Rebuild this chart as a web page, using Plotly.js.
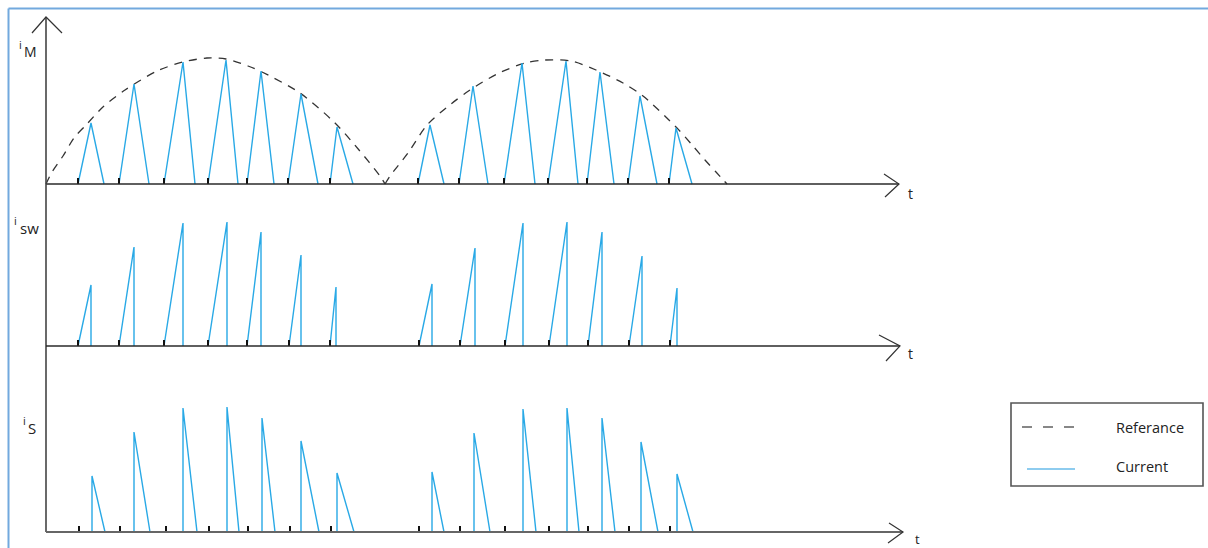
<!DOCTYPE html>
<html>
<head>
<meta charset="utf-8">
<script src="https://cdn.plot.ly/plotly-3.0.1.min.js"></script>
<style>html,body{margin:0;padding:0;background:#fff;}#chart{width:1208px;height:548px;}</style>
</head>
<body>
<div id="chart"></div>
<script>
// ---- Reference (dashed) envelope of i_M ----
const refArc1T = [0,6,17,28,40,58,79,111,137,161,180,202,216,254,289,313,334,339];
const refArc1A = [0,12,28,46,59,78,94,113,122,126,125,118,112,91,61,34,8,0];
const refArc2T = [339,344,362,381,405,424,451,479,499,525,550,577,597,631,647,659,670,681];
const refArc2A = [0,8,31,59,80,94,110,121,124,123,114,101,88,56,38,24,12,0];

// ---- i_M current triangles ----
const imStart = [32,73,118,162,201,242,284,372,413,458,502,541,582,623];
const imPeakT = [45,88,137,180,215,255,291,384,427,476,520,554,594,630];
const imEnd   = [58,103,149,192,228,272,307,398,442,489,532,568,611,646];
const imPeak  = [61,100,122,124,113,90,57,59,98,121,123,112,88,56];

// ---- i_sw switch current (ramp up, then drop) ----
const iswStart = [32,73,118,162,201,243,284,373,414,459,503,542,583,624];
const iswPeakT = [45,88,137,181,215,255,290,386,429,477,521,556,596,631];
const iswPeak  = [61,99,123,124,114,91,59,62,98,123,124,114,90,58];

// ---- i_S current (jump up, then ramp down) ----
const isTick  = [33,74,120,163,202,244,285,373,414,459,503,542,583,624];
const isPeakT = [46,88,137,181,216,255,291,386,428,477,521,556,595,631];
const isEnd   = [59,104,151,193,229,273,308,398,444,490,533,569,612,647];
const isPeak  = [56,100,124,125,114,91,59,60,99,123,124,114,90,58];

// ---- axis extents ----
const axisEnd = [853, 854, 857];
const tickHeight = 6;

const BLUE = '#29a9e6';
const AX = '#2a2a2a';

function segs(list){ // list of point arrays -> x,y with nulls
  const x=[], y=[];
  list.forEach(pts=>{ pts.forEach(p=>{x.push(p[0]);y.push(p[1]);}); x.push(null); y.push(null); });
  return {x,y};
}

const traces = [];

// reference dashed curve
traces.push({type:'scatter',mode:'lines',xaxis:'x',yaxis:'y',
  x: refArc1T.concat([null]).concat(refArc2T), y: refArc1A.concat([null]).concat(refArc2A),
  line:{color:'#333',width:1.3,dash:'8px,7px',shape:'spline',smoothing:0.8},connectgaps:false,hoverinfo:'skip'});

// panel 1 triangles
let s = segs(imStart.map((t,i)=>[[t,0],[imPeakT[i],imPeak[i]],[imEnd[i],0]]));
traces.push({type:'scatter',mode:'lines',xaxis:'x',yaxis:'y',x:s.x,y:s.y,line:{color:BLUE,width:1.4},hoverinfo:'skip'});
// panel 2 ramps
s = segs(iswStart.map((t,i)=>[[t,0],[iswPeakT[i],iswPeak[i]],[iswPeakT[i],0]]));
traces.push({type:'scatter',mode:'lines',xaxis:'x',yaxis:'y2',x:s.x,y:s.y,line:{color:BLUE,width:1.4},hoverinfo:'skip'});
// panel 3 drops
s = segs(isPeakT.map((t,i)=>[[t,0],[t,isPeak[i]],[isEnd[i],0]]));
traces.push({type:'scatter',mode:'lines',xaxis:'x',yaxis:'y3',x:s.x,y:s.y,line:{color:BLUE,width:1.4},hoverinfo:'skip'});

// small black ticks at switching instants
[[imStart,'y'],[iswStart,'y2'],[isTick,'y3']].forEach(([arr,ya])=>{
  const q = segs(arr.map(t=>[[t,0],[t,tickHeight]]));
  traces.push({type:'scatter',mode:'lines',xaxis:'x',yaxis:ya,x:q.x,y:q.y,line:{color:'#111',width:2},hoverinfo:'skip'});
});

// axes with open arrowheads
const axisColor = [AX, AX, '#666'];
const axisWidth = [1.4, 1.5, 2];
const wings = [[[838,10],[839,-13]],[[833,11],[840,-15]],[[843,9],[842,-11]]];
['y','y2','y3'].forEach((ya,k)=>{
  const e = axisEnd[k];
  traces.push({type:'scatter',mode:'lines',xaxis:'x',yaxis:ya,x:[0,e],y:[0,0],line:{color:axisColor[k],width:axisWidth[k]},hoverinfo:'skip'});
  const w = segs([[wings[k][0],[e,0],wings[k][1]]]);
  traces.push({type:'scatter',mode:'lines',xaxis:'x',yaxis:ya,x:w.x,y:w.y,line:{color:'#333',width:1.2},hoverinfo:'skip'});
});
// vertical axis (in panel-1 units) spanning all three panels
traces.push({type:'scatter',mode:'lines',xaxis:'x',yaxis:'y',x:[0,0],y:[167,-348],line:{color:'#444',width:1.6},hoverinfo:'skip'});
const va = segs([[[-14,151],[0,167],[16,151]]]);
traces.push({type:'scatter',mode:'lines',xaxis:'x',yaxis:'y',x:va.x,y:va.y,line:{color:'#333',width:1.2},hoverinfo:'skip'});

const FONT = 'Open Sans, Segoe UI, sans-serif';
function ann(text,x,y,yref,size,xanchor){
  return {text:text,x:x,y:y,xref:'x',yref:yref,showarrow:false,xanchor:xanchor||'center',yanchor:'middle',
    font:{family:FONT,size:size,color:'#222'}};
}
const annotations = [
  ann('i',-26,140,'y',11), ann('M',-16,133,'y',14),
  ann('i',-31,126,'y2',11), ann('sw',-16.5,118,'y2',15),
  ann('i',-22,112,'y3',11), ann('S',-14,104,'y3',15),
  ann('t',864,-9,'y',14), ann('t',864,-7,'y2',14), ann('t',871,-7,'y3',13),
  ann('Referance',1068,105,'y3',14.5,'left'),
  ann('Current',1068,66,'y3',14.5,'left')
];

const shapes = [
  // outer light-blue frame (top and left edges)
  {type:'line',xref:'paper',yref:'paper',x0:8.5/1208,x1:1,y0:1-8.5/548,y1:1-8.5/548,line:{color:'#72a9de',width:2}},
  {type:'line',xref:'paper',yref:'paper',x0:8.5/1208,x1:8.5/1208,y0:0,y1:1-8.5/548,line:{color:'#72a9de',width:2}},
  // legend box and samples
  {type:'rect',xref:'x',yref:'y3',x0:965,x1:1157,y0:46,y1:129,line:{color:'#555',width:1.6},fillcolor:'rgba(0,0,0,0)'},
  {type:'line',xref:'x',yref:'y3',x0:976,x1:1030,y0:105,y1:105,line:{color:'#111',width:1.2,dash:'10px,11px'}},
  {type:'line',xref:'x',yref:'y3',x0:981,x1:1029,y0:63,y1:63,line:{color:'#1f9ae0',width:1.2}}
];

const hidden = {visible:false,showgrid:false,zeroline:false,fixedrange:true};
const layout = {
  width:1208,height:548,margin:{l:0,r:0,t:0,b:0,pad:0},
  paper_bgcolor:'#fff',plot_bgcolor:'#fff',showlegend:false,
  xaxis:Object.assign({range:[-46,1162],domain:[0,1]},hidden),
  yaxis:Object.assign({range:[-364,184],domain:[0,1]},hidden),
  yaxis2:Object.assign({range:[-202,346],overlaying:'y',anchor:'x'},hidden),
  yaxis3:Object.assign({range:[-16,532],overlaying:'y',anchor:'x'},hidden),
  annotations:annotations,shapes:shapes
};
Plotly.newPlot('chart',traces,layout,{staticPlot:true,displayModeBar:false});
</script>
</body>
</html>
